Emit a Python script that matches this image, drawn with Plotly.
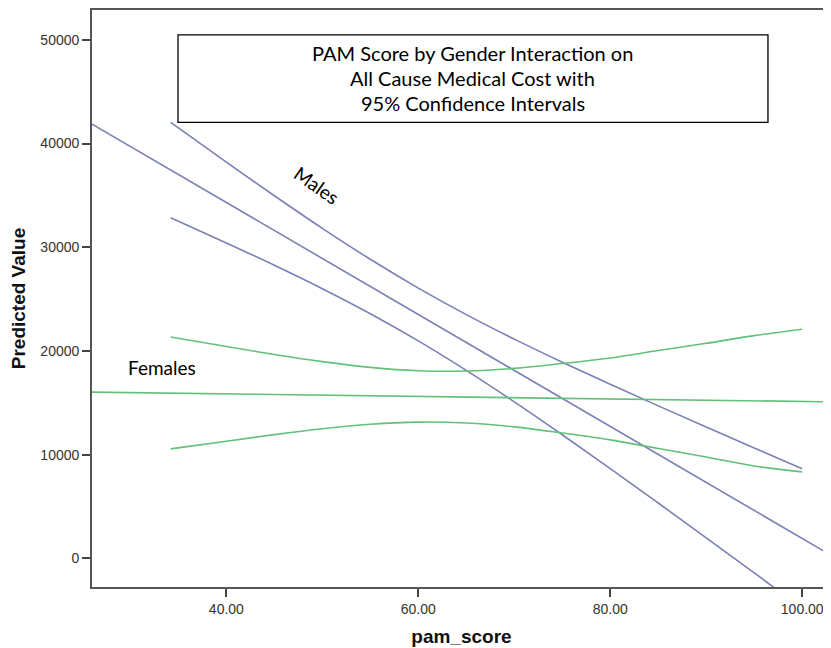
import plotly.graph_objects as go

# ---- data ----
ci_x = [34.2, 40, 45, 50, 55, 60, 65, 70, 75, 80, 85, 90, 95, 100]

male_edge_x = [26.0, 103.0]
male_fit = [41870, 311]
male_upper = [42040, 38205, 34966, 31825, 28841, 26063, 23506, 21142, 18919, 16785, 14707, 12670, 10653, 8655]
male_lower = [32840, 30415, 28262, 26005, 23593, 20977, 18134, 15098, 11927, 8665, 5345, 1990, -1395, -4795]

female_edge_x = [26.0, 103.0]
female_fit = [16030, 15100]
female_upper = [21340, 20430, 19660, 18970, 18420, 18095, 18065, 18320, 18787, 19330, 20040, 20740, 21480, 22100]
female_lower = [10560, 11290, 11940, 12510, 12940, 13145, 13055, 12680, 12093, 11430, 10600, 9780, 8908, 8350]

x_ticks = [40, 60, 80, 100]
y_ticks = [0, 10000, 20000, 30000, 40000, 50000]

title_lines = ["PAM Score by Gender Interaction on",
               "All Cause Medical Cost with",
               "95% Confidence Intervals"]

MALE = "rgb(122,128,182)"
FEMALE = "rgb(98,192,120)"

fig = go.Figure()
for ys in (male_upper, male_lower):
    fig.add_trace(go.Scatter(x=ci_x, y=ys, mode="lines", line=dict(color=MALE, width=1.6, shape="spline"),
                             hoverinfo="skip", showlegend=False))
fig.add_trace(go.Scatter(x=male_edge_x, y=male_fit, mode="lines", line=dict(color=MALE, width=1.6),
                         showlegend=False))
for ys in (female_upper, female_lower):
    fig.add_trace(go.Scatter(x=ci_x, y=ys, mode="lines", line=dict(color=FEMALE, width=1.6, shape="spline"),
                             hoverinfo="skip", showlegend=False))
fig.add_trace(go.Scatter(x=female_edge_x, y=female_fit, mode="lines", line=dict(color=FEMALE, width=1.6),
                         showlegend=False))

axis_font = dict(family="Liberation Sans, Arial, sans-serif", size=14, color="#333")
title_font = dict(family="Liberation Sans, Arial, sans-serif", size=19, color="#111")

fig.update_xaxes(range=[26.0, 103.0], tickvals=x_ticks, tickformat=".2f", ticks="outside", ticklen=8,
                 tickwidth=1.6, tickcolor="#444", showline=True, linecolor="#555", linewidth=1.8,
                 mirror=True, showgrid=False, zeroline=False, tickfont=axis_font,
                 title=dict(text="<b>pam_score</b>", font=title_font, standoff=14))
fig.update_yaxes(range=[-2752, 52870], tickvals=y_ticks, tickformat="d", ticks="outside", ticklen=8,
                 tickwidth=1.6, tickcolor="#444", showline=True, linecolor="#555", linewidth=1.8,
                 showgrid=False, zeroline=False, tickfont=axis_font,
                 title=dict(text="<b>Predicted Value</b>", font=title_font, standoff=10))

# title box
fig.add_shape(type="rect", xref="paper", yref="paper", x0=0.1164, x1=0.9147, y0=0.8052, y1=0.9569,
              line=dict(color="black", width=1.3), fillcolor="white", layer="above")
box_font = dict(family="Lato, Open Sans, sans-serif", size=20, color="black")
text_font = dict(family="Lato, Open Sans, sans-serif", size=19, color="black")
for i, t in enumerate(title_lines):
    fig.add_annotation(xref="paper", yref="paper", x=0.5155, y=0.9255 - i * 0.0431, text=t,
                       showarrow=False, font=box_font, xanchor="center", yanchor="middle")

fig.add_annotation(xref="paper", yref="paper", x=0.3049, y=0.696, text="Males", textangle=35,
                   showarrow=False, font=text_font, xanchor="center", yanchor="middle")
fig.add_annotation(xref="paper", yref="paper", x=0.0944, y=0.380, text="Females",
                   showarrow=False, font=text_font, xanchor="center", yanchor="middle")

# page body has an 8px margin, so the figure is offset to keep the plot area in place
fig.update_layout(width=823, height=640, margin=dict(l=84, r=0, t=0, b=61),
                  plot_bgcolor="white", paper_bgcolor="white")

fig.write_html("out.html")
